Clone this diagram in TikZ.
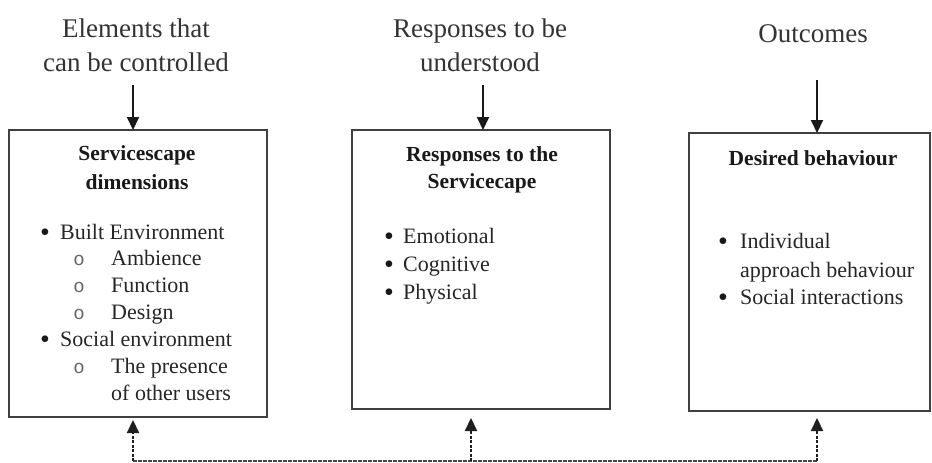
\documentclass[tikz,border=0pt]{standalone}
\usepackage{fontspec}
\setmainfont{Liberation Serif}
\newfontfamily\subbulletfont{Liberation Mono}
\usetikzlibrary{arrows.meta}
\begin{document}
\begin{tikzpicture}[x=1pt,y=-1pt,
  titletext/.style={font=\fontsize{27}{32}\selectfont, text=black!80, inner sep=0pt, anchor=base},
  headtext/.style={font=\fontsize{21.5}{26}\selectfont\bfseries, text=black!90, inner sep=0pt, anchor=base},
  bodytext/.style={font=\fontsize{22}{26}\selectfont, text=black!85, inner sep=0pt, anchor=base west},
  bullettext/.style={font=\fontsize{28}{30}\selectfont, text=black!90, inner sep=0pt, anchor=base},
  subbullet/.style={font=\fontsize{19}{24}\subbulletfont, text=black!60, inner sep=0pt, anchor=base},
  boxnode/.style={draw=black!75, line width=2.3pt, inner sep=0pt, outer sep=0pt, fill=white},
  solidarrow/.style={draw=black!90, line width=2pt, -{Triangle[length=13pt,width=12pt]}},
  dashedarrow/.style={draw=black!88, line width=2.2pt, dash pattern=on 3pt off 1.5pt, -{Triangle[length=13pt,width=12pt]}},
  dashedline/.style={draw=black!72, line width=1.8pt, dash pattern=on 3.5pt off 1.5pt}]
\useasboundingbox (0,0) rectangle (932,463);

% titles
\node[titletext] (t1a) at (136,37) {Elements that};
\node[titletext] (t1b) at (136,71) {can be controlled};
\node[titletext] (t2a) at (480,37) {Responses to be};
\node[titletext] (t2b) at (480,71) {understood};
\node[titletext] (t3a) at (813,42) {Outcomes};

% boxes
\node[boxnode, minimum width=258pt, minimum height=287pt] (b1) at (138,273.5) {};
\node[boxnode, minimum width=258pt, minimum height=279pt] (b2) at (481,269.5) {};
\node[boxnode, minimum width=241pt, minimum height=278pt] (b3) at (809.5,272) {};

% box 1 content
\node[headtext] (h1a) at (137,160) {Servicescape};
\node[headtext] (h1b) at (137,189) {dimensions};
\node[bullettext] (p1) at (45,241) {•};
\node[bodytext] (l1) at (60,239) {Built Environment};
\node[subbullet] (p2) at (79,265.8) {o};
\node[bodytext] (l2) at (111,265.8) {Ambience};
\node[subbullet] (p3) at (79,292.6) {o};
\node[bodytext] (l3) at (111,292.6) {Function};
\node[subbullet] (p4) at (79,319.4) {o};
\node[bodytext] (l4) at (111,319.4) {Design};
\node[bullettext] (p5) at (45,348.2) {•};
\node[bodytext] (l5) at (60,346.2) {Social environment};
\node[subbullet] (p6) at (79,373) {o};
\node[bodytext] (l6) at (111,373) {The presence};
\node[bodytext] (l7) at (111,400) {of other users};

% box 2 content
\node[headtext] (h2a) at (482,161.5) {Responses to the};
\node[headtext] (h2b) at (482,188.5) {Servicecape};
\node[bullettext] (q1) at (389,245) {•};
\node[bodytext] (m1) at (403,243) {Emotional};
\node[bullettext] (q2) at (389,273) {•};
\node[bodytext] (m2) at (403,271) {Cognitive};
\node[bullettext] (q3) at (389,301) {•};
\node[bodytext] (m3) at (403,299) {Physical};

% box 3 content
\node[headtext] (h3a) at (813,165) {Desired behaviour};
\node[bullettext] (r1) at (723,250) {•};
\node[bodytext] (n1) at (740,248) {Individual};
\node[bodytext] (n2) at (740,277) {approach behaviour};
\node[bullettext] (r2) at (723,306) {•};
\node[bodytext] (n3) at (740,304) {Social interactions};

% top arrows
\coordinate (a1) at (133,85);
\coordinate (a2) at (483,85);
\coordinate (a3) at (817,80);
\draw[solidarrow] (a1) -- (a1 |- b1.north);
\draw[solidarrow] (a2) -- (a2 |- b2.north);
\draw[solidarrow] (a3) -- (a3 |- b3.north);

% bottom feedback
\coordinate (c1) at (133,461);
\coordinate (c2) at (471,461);
\coordinate (c3) at (817,461);
\draw[dashedline] (c1) -- (c3);
\draw[dashedarrow, shorten >=3pt] (c1) -- (c1 |- b1.south);
\draw[dashedarrow, shorten >=9pt] (c2) -- (c2 |- b2.south);
\draw[dashedarrow, shorten >=7pt] (c3) -- (c3 |- b3.south);
\end{tikzpicture}
\end{document}
